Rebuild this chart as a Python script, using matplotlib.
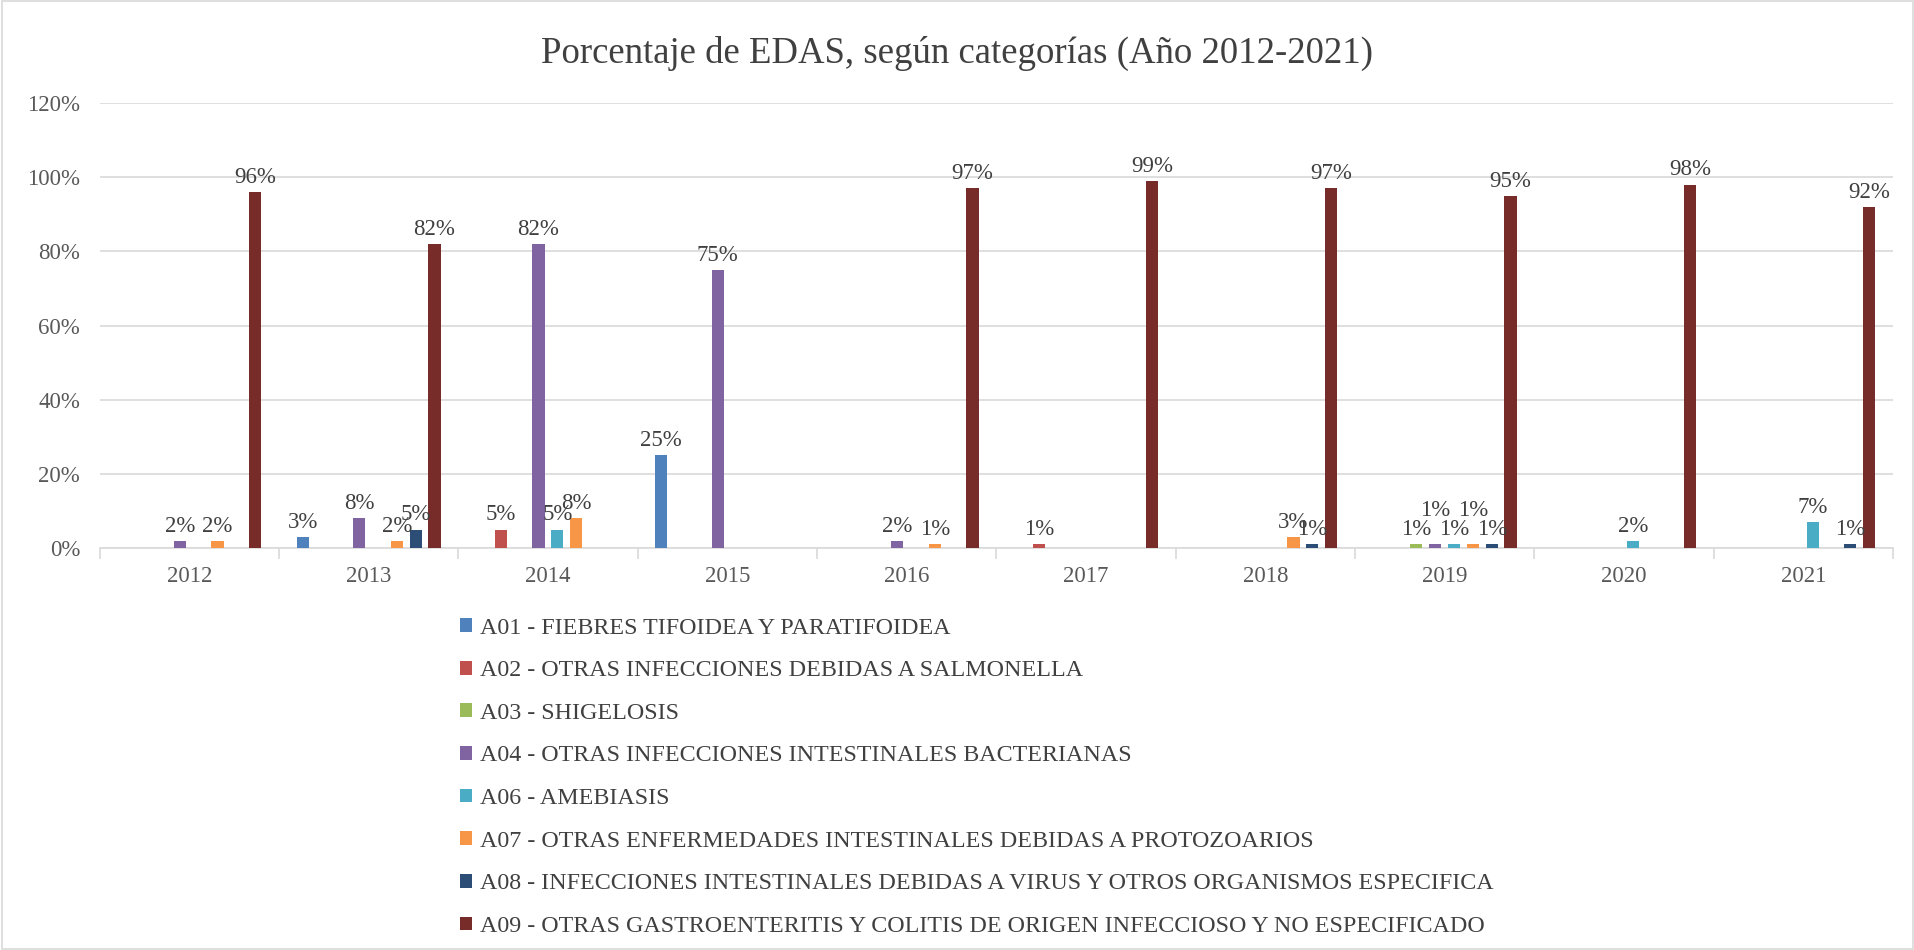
import matplotlib
matplotlib.use("Agg")
import matplotlib.pyplot as plt
import numpy as np
from matplotlib.ticker import PercentFormatter, FixedLocator
from matplotlib.patches import Rectangle

years = ["2012", "2013", "2014", "2015", "2016", "2017", "2018", "2019", "2020", "2021"]
series_names = [
    "A01 - FIEBRES TIFOIDEA Y PARATIFOIDEA",
    "A02 - OTRAS INFECCIONES DEBIDAS A SALMONELLA",
    "A03 - SHIGELOSIS",
    "A04 - OTRAS INFECCIONES INTESTINALES BACTERIANAS",
    "A06 - AMEBIASIS",
    "A07 - OTRAS ENFERMEDADES INTESTINALES DEBIDAS A PROTOZOARIOS",
    "A08 - INFECCIONES INTESTINALES DEBIDAS A VIRUS Y OTROS ORGANISMOS ESPECIFICA",
    "A09 - OTRAS GASTROENTERITIS Y COLITIS DE ORIGEN INFECCIOSO Y NO ESPECIFICADO",
]
a01 = [0, 3, 0, 25, 0, 0, 0, 0, 0, 0]
a02 = [0, 0, 5, 0, 0, 1, 0, 0, 0, 0]
a03 = [0, 0, 0, 0, 0, 0, 0, 1, 0, 0]
a04 = [2, 8, 82, 75, 2, 0, 0, 1, 0, 0]
a06 = [0, 0, 5, 0, 0, 0, 0, 1, 2, 7]
a07 = [2, 2, 8, 0, 1, 0, 3, 1, 0, 0]
a08 = [0, 5, 0, 0, 0, 0, 1, 1, 0, 1]
a09 = [96, 82, 0, 0, 97, 99, 97, 95, 98, 92]
series_values = [a01, a02, a03, a04, a06, a07, a08, a09]
colors = ["#4F81BD", "#C0504D", "#9BBB59", "#8064A2", "#4BACC6", "#F79646", "#2C4D75", "#772C2A"]

plt.rcParams['font.family'] = ['Liberation Serif', 'DejaVu Serif']

fig = plt.figure(figsize=(19.15, 9.5), dpi=100)
fig.patches.append(Rectangle((0.001, 0.001), 0.998, 0.998, transform=fig.transFigure,
                             fill=False, edgecolor="#D9D9D9", linewidth=1.2))
ax = fig.add_axes([0.052, 0.423, 0.9365, 0.4686])

n = len(series_values)
x = np.arange(len(years))
slot = 0.105
bw = 0.068
# extra vertical offsets (points) for crowded labels
label_shift = {(7, 3): 14, (7, 5): 14}

for i, (vals, col, name) in enumerate(zip(series_values, colors, series_names)):
    pos = x + (i - (n - 1) / 2) * slot
    v = np.array(vals, dtype=float)
    ax.bar(pos, v, width=bw, color=col, label=name, zorder=3)
    for j, (p, val) in enumerate(zip(pos, v)):
        if val > 0:
            ax.annotate(f"{int(val)}%", (p, val), xytext=(0, 3 + label_shift.get((j, i), 0)),
                        textcoords="offset points", ha="center", va="bottom",
                        fontsize=16.5, color="#404040", zorder=4)

ax.set_xlim(-0.5, len(years) - 0.5)
ax.set_ylim(0, 120)
ax.yaxis.set_major_locator(FixedLocator(np.arange(0, 121, 20)))
ax.yaxis.set_major_formatter(PercentFormatter(decimals=0))
ax.grid(axis="y", color="#D9D9D9", linewidth=1.2, zorder=0)
ax.set_axisbelow(True)
for s in ["left", "right", "top"]:
    ax.spines[s].set_visible(False)
ax.spines["bottom"].set_color("#D9D9D9")
ax.spines["bottom"].set_linewidth(1.2)
ax.set_xticks(x)
ax.set_xticklabels(years)
ax.set_xticks(np.arange(-0.5, len(years), 1), minor=True)
ax.tick_params(axis="x", which="major", length=0, pad=13, labelsize=16.5, labelcolor="#595959")
ax.tick_params(axis="x", which="minor", length=8, color="#D9D9D9", width=1.2)
ax.tick_params(axis="y", length=0, pad=14, labelsize=16.5, labelcolor="#595959")

fig.text(0.5, 0.944, "Porcentaje de EDAS, según categorías (Año 2012-2021)",
         ha="center", va="center", fontsize=26.5, color="#404040")

leg = fig.legend(loc="upper left", bbox_to_anchor=(0.235, 0.36), ncol=1, frameon=False,
                 fontsize=17.3, handlelength=0.5, handleheight=0.5, handletextpad=0.35,
                 labelspacing=0.9, borderaxespad=0)
for t in leg.get_texts():
    t.set_color("#404040")

fig.savefig("out.png", dpi=100)
